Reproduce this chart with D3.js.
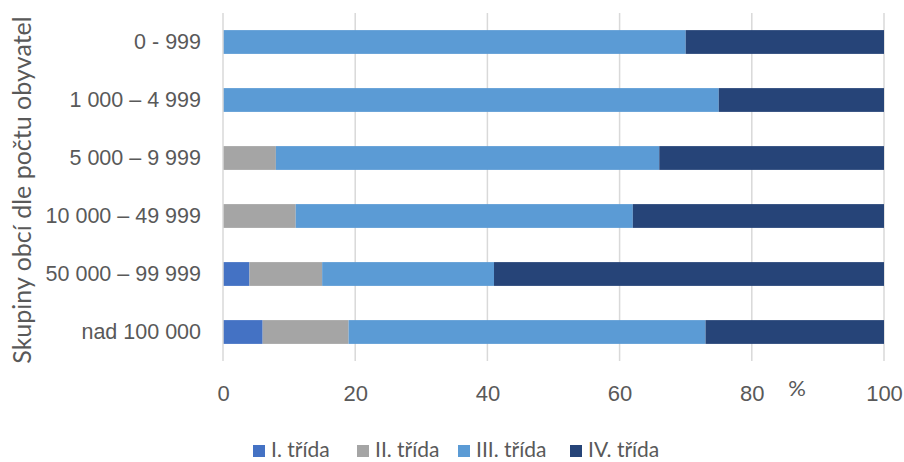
<!DOCTYPE html>
<html>
<head>
<meta charset="utf-8">
<script src="https://cdn.jsdelivr.net/npm/d3@7"></script>
<style>
  body { margin: 0; background: #fff; }
  svg { display: block; font-family: Lato, "Open Sans", sans-serif; }
</style>
</head>
<body>
<svg id="chart" width="904" height="462"></svg>
<script>
// Population-size groups of municipalities (top to bottom)
const categories = ["0 - 999", "1 000 – 4 999", "5 000 – 9 999", "10 000 – 49 999", "50 000 – 99 999", "nad 100 000"];
// Share (%) of each class per group
const seriesNames = ["I. třída", "II. třída", "III. třída", "IV. třída"];
const classI   = [0, 0, 0, 0, 4, 6];
const classII  = [0, 0, 8, 11, 11, 13];
const classIII = [70, 75, 58, 51, 26, 54];
const classIV  = [30, 25, 34, 38, 59, 27];
const xTicks = [0, 20, 40, 60, 80, 100];
const colors = ["#4472C4", "#A5A5A5", "#5B9BD5", "#264478"];

const rows = categories.map((c, i) => ({
  cat: c,
  "I. třída": classI[i],
  "II. třída": classII[i],
  "III. třída": classIII[i],
  "IV. třída": classIV[i]
}));

const svg = d3.select("#chart");
const margin = { left: 223, top: 13 };
const plotBottom = 361;

const x = d3.scaleLinear().domain([0, 100]).range([margin.left, 884]);
const y = d3.scaleBand().domain(categories).range([margin.top, plotBottom]).paddingInner(0.59).paddingOuter(0.295);
const color = d3.scaleOrdinal().domain(seriesNames).range(colors);

// Vertical gridlines
svg.append("g")
  .selectAll("line")
  .data(xTicks.slice(1))
  .join("line")
  .attr("x1", d => x(d)).attr("x2", d => x(d))
  .attr("y1", margin.top).attr("y2", plotBottom)
  .attr("stroke", "#d9d9d9").attr("stroke-width", 1.5);

// Stacked bars
const stacked = d3.stack().keys(seriesNames)(rows);
svg.append("g")
  .selectAll("g")
  .data(stacked)
  .join("g")
  .attr("fill", d => color(d.key))
  .selectAll("rect")
  .data(d => d)
  .join("rect")
  .attr("x", d => x(d[0]))
  .attr("width", d => x(d[1]) - x(d[0]))
  .attr("y", d => y(d.data.cat))
  .attr("height", y.bandwidth());

// Category axis line
svg.append("line")
  .attr("x1", x(0)).attr("x2", x(0))
  .attr("y1", margin.top).attr("y2", plotBottom)
  .attr("stroke", "#d9d9d9").attr("stroke-width", 1.5);

// Category labels
const yAxis = d3.axisLeft(y).tickSize(0).tickPadding(22);
const gy = svg.append("g").attr("transform", `translate(${x(0)},0)`).call(yAxis);
gy.select(".domain").remove();
gy.selectAll("text").attr("fill", "#595959").style("font-size", "21.5px");

// Value axis labels
const xAxis = d3.axisBottom(x).tickValues(xTicks).tickSize(0).tickPadding(24);
const gx = svg.append("g").attr("transform", `translate(0,${plotBottom})`).call(xAxis);
gx.select(".domain").remove();
gx.selectAll("text").attr("fill", "#595959").style("font-size", "22px");

// Unit label
svg.append("text")
  .attr("x", 797).attr("y", 396)
  .attr("text-anchor", "middle")
  .attr("fill", "#595959").style("font-size", "22px")
  .text("%");

// Axis title
svg.append("text")
  .attr("transform", `translate(31,190) rotate(-90)`)
  .attr("text-anchor", "middle")
  .attr("fill", "#595959").style("font-size", "25px")
  .text("Skupiny obcí dle počtu obyvatel");

// Legend
const legendX = [253, 357, 458, 570];
const lg = svg.append("g")
  .selectAll("g")
  .data(seriesNames)
  .join("g")
  .attr("transform", (d, i) => `translate(${legendX[i]},450)`);
lg.append("rect")
  .attr("x", 0).attr("y", -5).attr("width", 12).attr("height", 12)
  .attr("fill", d => color(d));
lg.append("text")
  .attr("x", 18).attr("y", 0).attr("dy", "0.35em")
  .attr("fill", "#595959").style("font-size", "21px")
  .text(d => d);
</script>
</body>
</html>
